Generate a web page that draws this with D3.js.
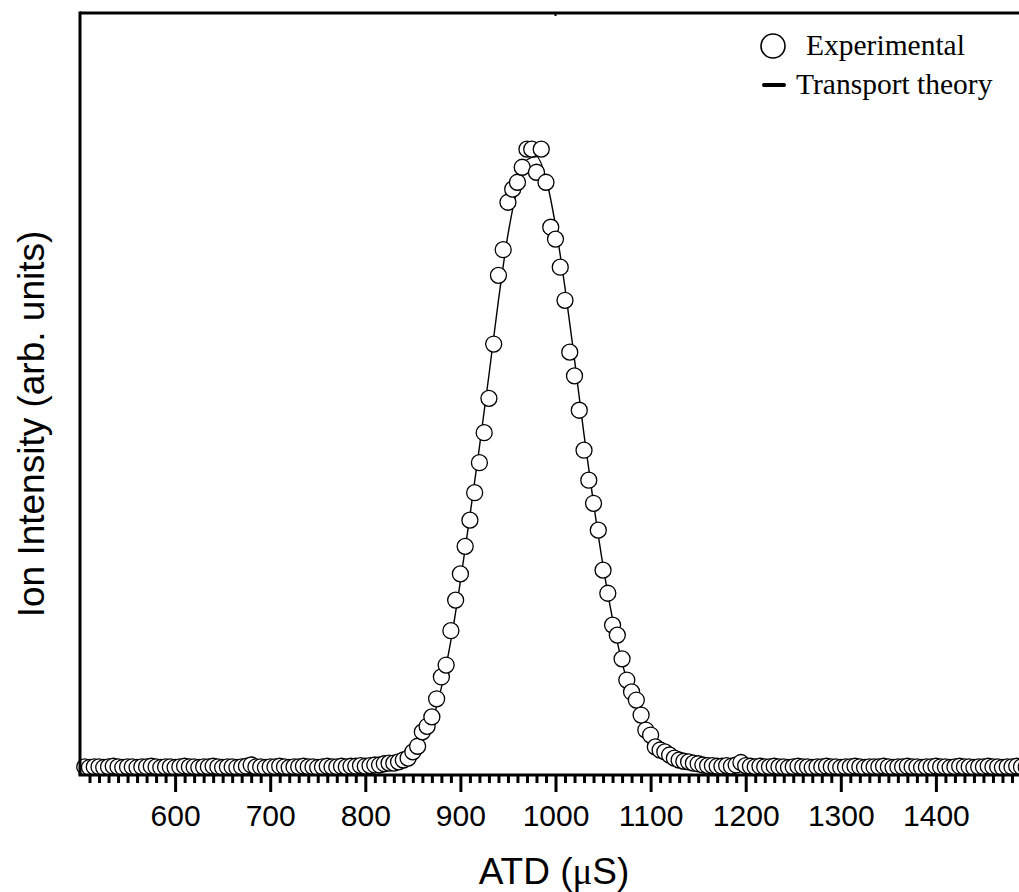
<!DOCTYPE html>
<html>
<head>
<meta charset="utf-8">
<script src="https://cdn.jsdelivr.net/npm/d3@7"></script>
<style>
  body { margin: 0; background: #fff; }
  svg { display: block; }
  .tick-label { font-family: "Liberation Sans", Arial, sans-serif; font-size: 30px; fill: #000; }
  .axis-title { font-family: "Liberation Sans", Arial, sans-serif; font-size: 37px; fill: #000; }
  .legend-text { font-family: "Liberation Serif", "Times New Roman", serif; font-size: 29.5px; fill: #000; }
</style>
</head>
<body>
<svg id="chart" width="1019" height="892"></svg>
<script>
// ATD measurement, sampled every 5 uS starting at 505 uS
const sampleStart = 505;
const sampleStep = 5;

// baseline before the peak (505 - 795)
const expBaseLeft = [
  0.013,0.012,0.013,0.013,0.012,0.013,0.014,0.013,0.012,0.013,
  0.013,0.012,0.013,0.013,0.014,0.013,0.012,0.013,0.013,0.012,
  0.013,0.014,0.013,0.013,0.012,0.013,0.013,0.014,0.013,0.012,
  0.013,0.013,0.012,0.013,0.014,0.016,0.013,0.013,0.012,0.013,
  0.013,0.014,0.013,0.012,0.013,0.013,0.014,0.013,0.013,0.012,
  0.013,0.014,0.013,0.013,0.014,0.013,0.014,0.014,0.015
];

// the peak (800 - 1160)
const expPeak = [
  0.014,0.015,0.016,0.016,0.018,0.019,0.019,0.021,0.024,0.027,
  0.037,0.046,0.069,0.078,0.093,0.122,0.157,0.176,0.231,0.280,
  0.322,0.366,0.408,0.452,0.500,0.548,0.603,0.690,0.800,0.841,
  0.917,0.938,0.949,0.973,1.002,1.002,0.965,1.002,0.949,0.877,
  0.858,0.813,0.760,0.677,0.639,0.584,0.520,0.472,0.435,0.392,
  0.328,0.291,0.240,0.224,0.186,0.152,0.133,0.120,0.096,0.072,
  0.064,0.045,0.040,0.037,0.032,0.027,0.024,0.022,0.021,0.019,
  0.018,0.016,0.015
];

// baseline after the peak (1165 - 1495)
const expBaseRight = [
  0.015,0.014,0.014,0.015,0.014,0.016,0.020,0.015,0.014,0.013,
  0.014,0.013,0.013,0.014,0.013,0.013,0.012,0.013,0.014,0.013,
  0.013,0.012,0.013,0.013,0.014,0.013,0.013,0.012,0.013,0.013,
  0.014,0.013,0.012,0.013,0.013,0.013,0.014,0.013,0.012,0.013,
  0.013,0.014,0.013,0.013,0.012,0.013,0.013,0.014,0.013,0.013,
  0.012,0.013,0.014,0.013,0.013,0.012,0.013,0.013,0.014,0.013,
  0.013,0.012,0.013,0.013,0.014,0.013,0.013
];

// transport theory curve, every 10 uS from 500 to 1500
const theoryStart = 500;
const theoryStep = 10;
const theoryValues = [
  0.013,0.013,0.013,0.013,0.013,0.013,0.013,0.013,0.013,0.013,
  0.013,0.013,0.013,0.013,0.013,0.013,0.013,0.013,0.013,0.013,
  0.013,0.013,0.013,0.013,0.013,0.013,0.013,0.013,0.013,0.013,
  0.014,0.015,0.017,0.019,0.023,0.033,0.052,0.085,0.140,0.215,
  0.310,0.415,0.525,0.640,0.760,0.865,0.940,0.985,0.990,0.955,
  0.880,0.780,0.665,0.545,0.435,0.335,0.250,0.180,0.128,0.090,
  0.064,0.046,0.034,0.026,0.021,0.018,0.016,0.015,0.014,0.013,
  0.013,0.013,0.013,0.013,0.013,0.013,0.013,0.013,0.013,0.013,
  0.013,0.013,0.013,0.013,0.013,0.013,0.013,0.013,0.013,0.013,
  0.013,0.013,0.013,0.013,0.013,0.013,0.013,0.013,0.013,0.013,
  0.013
];

const xTicks = [600, 700, 800, 900, 1000, 1100, 1200, 1300, 1400];
const xTitle = "ATD (";
const yTitle = "Ion Intensity (arb. units)";
const legendLabels = ["Experimental", "Transport theory"];

const svg = d3.select('#chart');
const plot = {left: 80, top: 13, bottom: 775};

const x = d3.scaleLinear().domain([500, 1500]).range([plot.left, 1031]);
const y = d3.scaleLinear().domain([0, 1.22]).range([plot.bottom, plot.top]);

const experimental = expBaseLeft.concat(expPeak, expBaseRight)
  .map((v, i) => ({t: sampleStart + i * sampleStep, v: v}));
const theory = theoryValues.map((v, i) => ({t: theoryStart + i * theoryStep, v: v}));

// theory line
svg.append('path')
  .datum(theory)
  .attr('fill', 'none')
  .attr('stroke', '#000')
  .attr('stroke-width', 1.4)
  .attr('d', d3.line().x(d => x(d.t)).y(d => y(d.v)).curve(d3.curveMonotoneX));

// experimental points
svg.append('g').selectAll('circle')
  .data(experimental)
  .enter().append('circle')
  .attr('cx', d => x(d.t))
  .attr('cy', d => y(d.v))
  .attr('r', 8)
  .attr('fill', '#fff')
  .attr('stroke', '#000')
  .attr('stroke-width', 1.3);

// frame: left and top lines
svg.append('line')
  .attr('x1', plot.left).attr('x2', plot.left)
  .attr('y1', plot.top - 1.5).attr('y2', plot.bottom)
  .attr('stroke', '#000').attr('stroke-width', 3);
svg.append('line')
  .attr('x1', plot.left).attr('x2', 1019)
  .attr('y1', plot.top).attr('y2', plot.top)
  .attr('stroke', '#000').attr('stroke-width', 3);
svg.append('line')
  .attr('x1', x(1000)).attr('x2', x(1000))
  .attr('y1', plot.top).attr('y2', plot.top + 3)
  .attr('stroke', '#000').attr('stroke-width', 2);

// bottom axis with minor ticks every 10
const axisMajor = d3.axisBottom(x)
  .tickValues(xTicks)
  .tickSize(17)
  .tickPadding(13)
  .tickFormat(d3.format('d'));
const axisMinor = d3.axisBottom(x)
  .tickValues(d3.range(510, 1500, 10).filter(v => v % 100 !== 0))
  .tickSize(8)
  .tickFormat('');

const gMinor = svg.append('g').attr('transform', `translate(0,${plot.bottom})`).call(axisMinor);
gMinor.select('.domain').remove();
gMinor.selectAll('.tick line').attr('stroke-width', 3);

const gMajor = svg.append('g').attr('transform', `translate(0,${plot.bottom})`).call(axisMajor);
gMajor.select('.domain').remove();
gMajor.selectAll('.tick line').attr('stroke-width', 3);
gMajor.selectAll('.tick text').attr('class', 'tick-label').attr('dy', null).attr('y', 51);

svg.append('line')
  .attr('x1', plot.left - 1.5).attr('x2', 1019)
  .attr('y1', plot.bottom).attr('y2', plot.bottom)
  .attr('stroke', '#000').attr('stroke-width', 3);

// axis titles
const xt = svg.append('text')
  .attr('class', 'axis-title')
  .attr('x', 554)
  .attr('y', 884)
  .attr('text-anchor', 'middle');
xt.append('tspan').text(xTitle);
xt.append('tspan').attr('font-family', '"Liberation Serif", serif').text('μ');
xt.append('tspan').text('S)');

svg.append('text')
  .attr('class', 'axis-title')
  .attr('transform', 'translate(44,424) rotate(-90)')
  .attr('text-anchor', 'middle')
  .text(yTitle);

// legend
const legend = svg.append('g');
legend.append('circle')
  .attr('cx', 773).attr('cy', 46).attr('r', 12)
  .attr('fill', '#fff').attr('stroke', '#000').attr('stroke-width', 1.6);
legend.append('text').attr('class', 'legend-text')
  .attr('x', 806).attr('y', 55).text(legendLabels[0]);
legend.append('line')
  .attr('x1', 764).attr('x2', 784).attr('y1', 85).attr('y2', 85)
  .attr('stroke', '#000').attr('stroke-width', 4).attr('stroke-linecap', 'round');
legend.append('text').attr('class', 'legend-text')
  .attr('x', 796).attr('y', 94).text(legendLabels[1]);
</script>
</body>
</html>
